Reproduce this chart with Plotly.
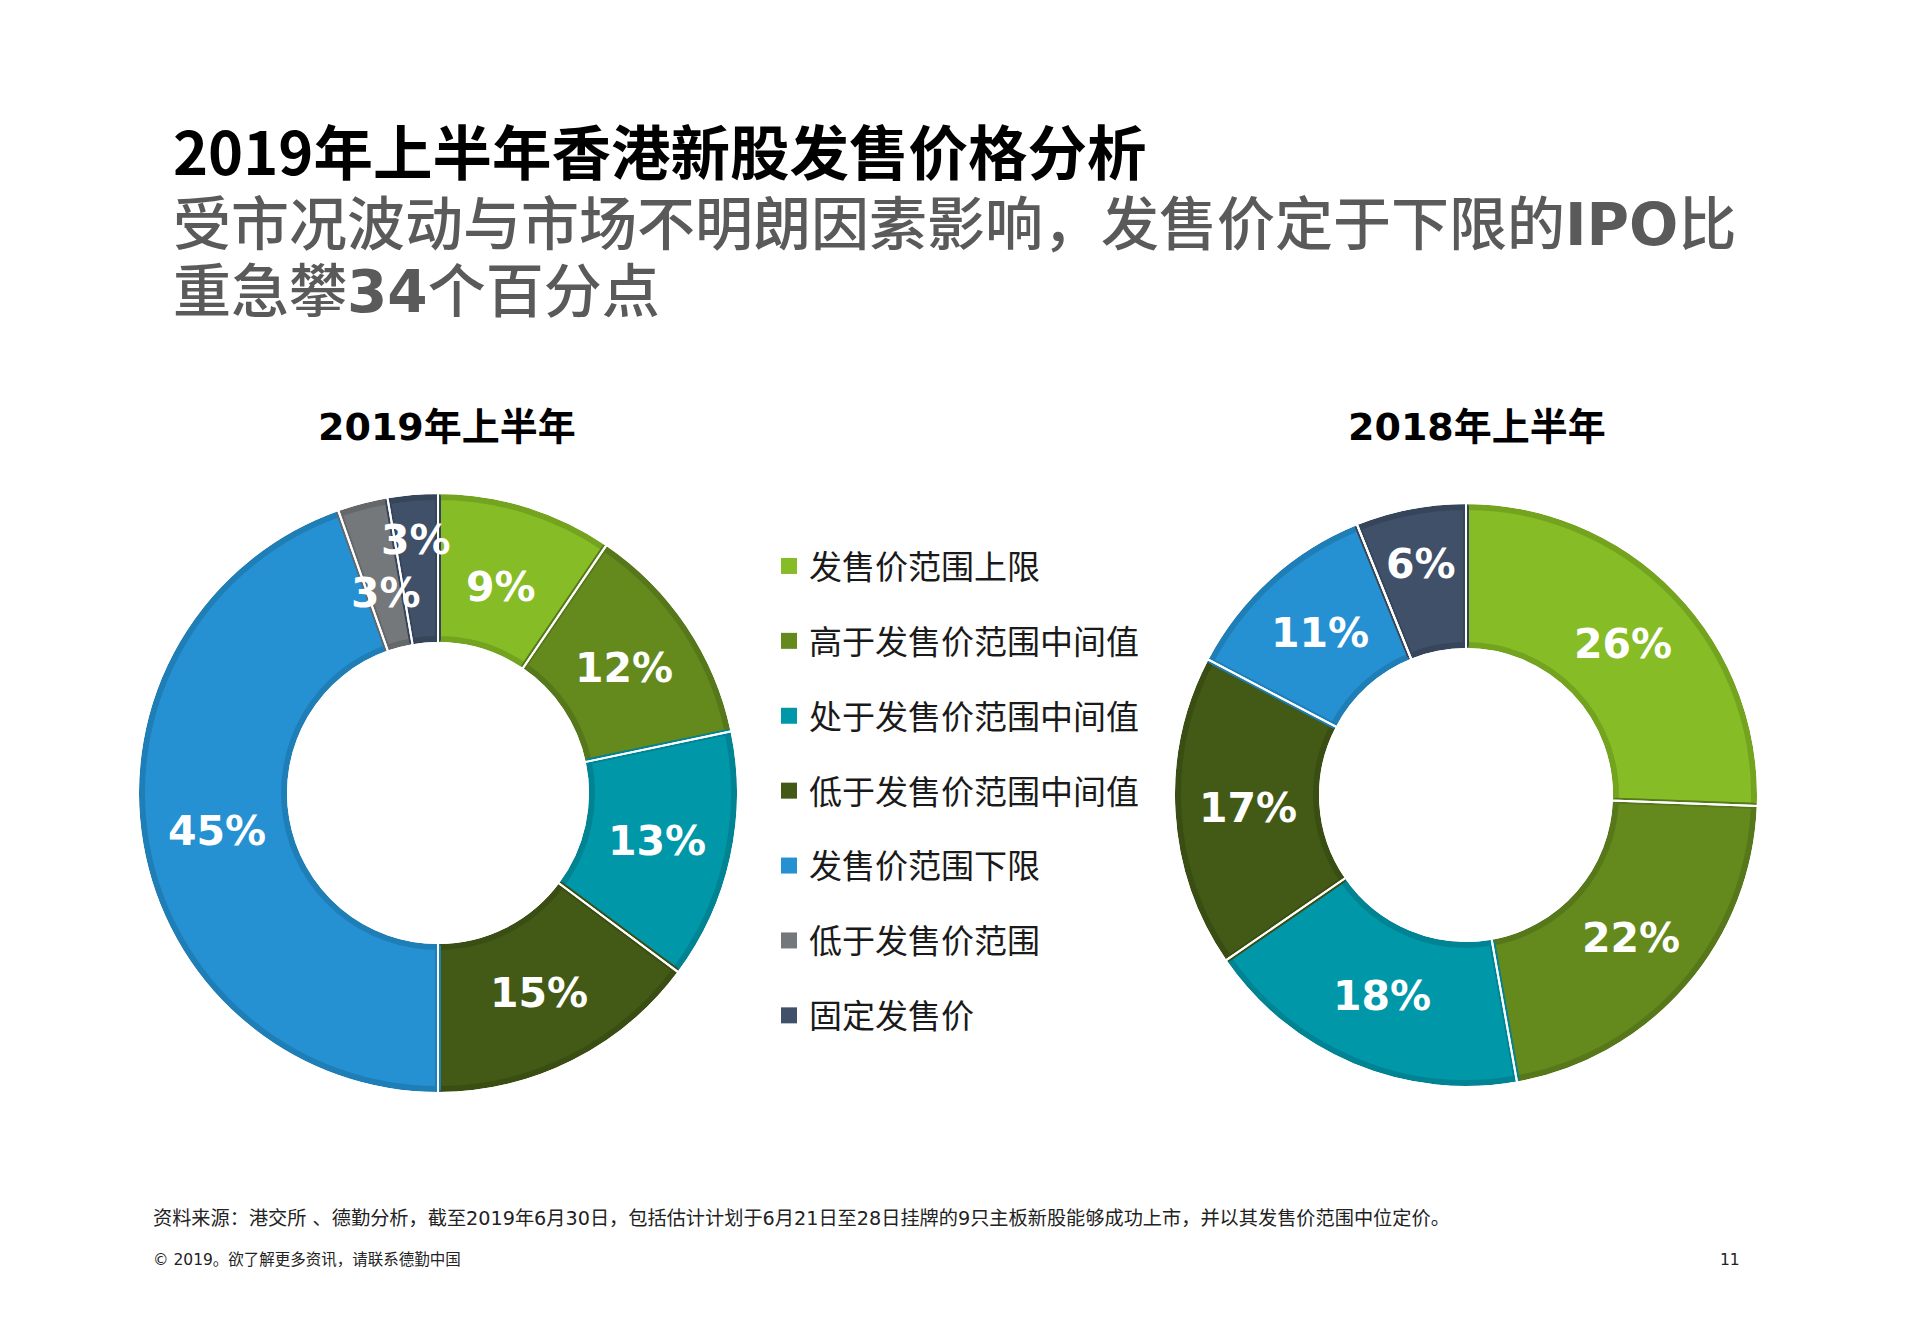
import math
import plotly.graph_objects as go

W, H = 1924, 1344

# ---------------- data ----------------
categories = ["发售价范围上限", "高于发售价范围中间值", "处于发售价范围中间值",
              "低于发售价范围中间值", "发售价范围下限", "低于发售价范围", "固定发售价"]
# slice shares (%)
values_2019 = [9.5, 12.2, 13.5, 14.8, 44.6, 2.7, 2.7]
values_2018 = [25.6, 21.6, 18.2, 17.3, 11.2, 0.0, 6.1]
# printed value labels
labels_2019 = ["9%", "12%", "13%", "15%", "45%", "3%", "3%"]
labels_2018 = ["26%", "22%", "18%", "17%", "11%", "", "6%"]
pie_titles = ["2019年上半年", "2018年上半年"]

title_text = "2019年上半年香港新股发售价格分析"
subtitle_lines = ["受市况波动与市场不明朗因素影响，发售价定于下限的<b>IPO</b>比",
                  "重急攀<b>34</b>个百分点"]
footnote_text = ("资料来源：港交所 、德勤分析，截至2019年6月30日，包括估计计划于6月21日至28日"
                 "挂牌的9只主板新股能够成功上市，并以其发售价范围中位定价。")
copyright_text = "© 2019。欲了解更多资讯，请联系德勤中国"
page_number = "11"

# ---------------- style ----------------
colors = ["#86BC25", "#648A1E", "#0097A9", "#435A16", "#2591D3", "#75787B", "#3F5068"]


def darker(hex_color, f=0.87):
    h = hex_color.lstrip("#")
    r, g, b = (int(h[i:i + 2], 16) for i in (0, 2, 4))
    return "rgb(%d,%d,%d)" % (r * f, g * f, b * f)


edge_colors = [darker(c) for c in colors]

# radial placement of the value labels (fraction of outer radius)
label_r_2019 = [0.72, 0.75, 0.75, 0.75, 0.75, 0.69, 0.85]
label_r_2018 = [0.75, 0.75, 0.75, 0.75, 0.75, 0.75, 0.81]

BEVEL = 6          # width of the darker band along each slice edge (px)
HOLE_FRAC = 0.505  # visible inner radius / visible outer radius


def domain_for(cx, cy, r):
    return dict(x=[(cx - r) / W, (cx + r) / W], y=[1 - (cy + r) / H, 1 - (cy - r) / H])


def donut_traces(vals, cx, cy, R):
    inner = HOLE_FRAC * R
    # base ring: stroke centred on geometry, so pull geometry in by half the band
    rb = R - BEVEL / 2
    base = go.Pie(
        labels=categories, values=vals, domain=domain_for(cx, cy, rb),
        hole=(inner + BEVEL / 2) / rb,
        sort=False, direction="clockwise", rotation=0,
        marker=dict(colors=colors, line=dict(color=edge_colors, width=BEVEL)),
        textinfo="none", hoverinfo="label+percent", showlegend=False,
    )
    # white radial separators drawn on top; its arcs fall on the white background
    ro = R + 1
    sep = go.Pie(
        labels=categories, values=vals, domain=domain_for(cx, cy, ro),
        hole=(inner - 1) / ro,
        sort=False, direction="clockwise", rotation=0,
        marker=dict(colors=["rgba(0,0,0,0)"] * len(colors),
                    line=dict(color="white", width=2)),
        textinfo="none", hoverinfo="skip", showlegend=False,
    )
    return [base, sep]


CENTER_2019, R_2019 = (438, 793), 299
CENTER_2018, R_2018 = (1466, 795), 291

fig = go.Figure()
for tr in donut_traces(values_2019, *CENTER_2019, R_2019):
    fig.add_trace(tr)
for tr in donut_traces(values_2018, *CENTER_2018, R_2018):
    fig.add_trace(tr)

# legend entries
for name, c in zip(categories, colors):
    fig.add_trace(go.Scatter(
        x=[None], y=[None], mode="markers", name=name, legendgroup=name,
        marker=dict(symbol="square", size=16, color=c, line=dict(width=0)),
        hoverinfo="skip", showlegend=True,
    ))


def label_annotations(values, texts, center, R, rfac):
    cx, cy = center
    total = float(sum(values))
    cum = 0.0
    anns = []
    for v, t, f in zip(values, texts, rfac):
        mid = (cum + v / 2.0) / total * 2 * math.pi
        cum += v
        if v <= 0 or not t:
            continue
        px = cx + f * R * math.sin(mid)
        py = cy - f * R * math.cos(mid)
        anns.append(dict(
            x=px / W, y=1 - py / H, xref="paper", yref="paper",
            text="<b>%s</b>" % t, showarrow=False,
            xanchor="center", yanchor="middle",
            font=dict(family="DejaVu Sans", size=41, color="white"),
        ))
    return anns


annotations = []
annotations += label_annotations(values_2019, labels_2019, CENTER_2019, R_2019, label_r_2019)
annotations += label_annotations(values_2018, labels_2018, CENTER_2018, R_2018, label_r_2018)

# pie titles
for t, xc in zip(pie_titles, (447, 1477)):
    annotations.append(dict(
        x=xc / W, y=1 - 427 / H, xref="paper", yref="paper", text="<b>%s</b>" % t,
        showarrow=False, xanchor="center", yanchor="middle",
        font=dict(family="DejaVu Sans, Noto Sans CJK SC", size=38, color="#000000"),
    ))

# main title / subtitle
annotations.append(dict(
    x=171 / W, y=1 - 149 / H, xref="paper", yref="paper", text="<b>%s</b>" % title_text,
    showarrow=False, xanchor="left", yanchor="middle",
    font=dict(family="Noto Sans CJK SC", size=59.5, color="#000000"),
))
for line, yc in zip(subtitle_lines, (225, 292)):
    annotations.append(dict(
        x=171 / W, y=1 - yc / H, xref="paper", yref="paper", text=line,
        showarrow=False, xanchor="left", yanchor="middle",
        font=dict(family="DejaVu Sans, Noto Sans CJK SC", size=58, color="#5a5a5a", weight=500),
    ))

# footnotes
annotations.append(dict(
    x=151 / W, y=1 - 1218 / H, xref="paper", yref="paper", text=footnote_text,
    showarrow=False, xanchor="left", yanchor="middle",
    font=dict(family="DejaVu Sans, Noto Sans CJK SC", size=19.2, color="#222222"),
))
annotations.append(dict(
    x=151 / W, y=1 - 1260 / H, xref="paper", yref="paper", text=copyright_text,
    showarrow=False, xanchor="left", yanchor="middle",
    font=dict(family="DejaVu Sans, Noto Sans CJK SC", size=15.5, color="#222222"),
))
annotations.append(dict(
    x=1742 / W, y=1 - 1260 / H, xref="paper", yref="paper", text=page_number,
    showarrow=False, xanchor="right", yanchor="middle",
    font=dict(family="DejaVu Sans", size=15.5, color="#222222"),
))

fig.update_layout(
    width=W, height=H, margin=dict(l=0, r=0, t=0, b=0),
    paper_bgcolor="white", plot_bgcolor="white",
    xaxis=dict(visible=False), yaxis=dict(visible=False),
    showlegend=True,
    legend=dict(
        x=769 / W, y=1 - 538 / H, xanchor="left", yanchor="top",
        font=dict(family="Noto Sans CJK SC", size=33, color="#1a1a1a"),
        tracegroupgap=29, bgcolor="rgba(0,0,0,0)", borderwidth=0,
        itemclick=False, itemdoubleclick=False,
    ),
    annotations=annotations,
)

fig.write_html("out.html")
